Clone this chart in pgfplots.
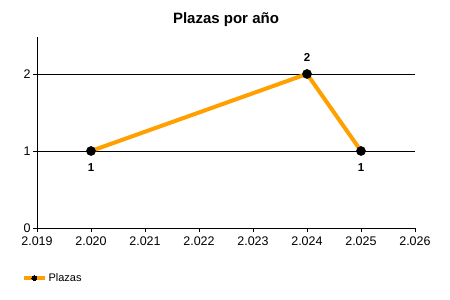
\documentclass[border=0pt]{standalone}
\usepackage{pgfplots}
\pgfplotsset{compat=1.18}
\usepackage{fontspec}
\setmainfont{Liberation Sans}
\definecolor{lineorange}{RGB}{255,160,0}
\begin{document}
\begin{tikzpicture}
\useasboundingbox (0pt,0pt) rectangle (450pt,300pt);
\begin{axis}[
  at={(37pt,72pt)}, anchor=south west,
  scale only axis, width=378pt, height=191pt,
  xmin=2019, xmax=2026, ymin=0, ymax=2.48,
  axis x line*=bottom, axis y line*=left,
  axis line style={black, line width=0.8pt, -},
  xtick={2019,...,2026},
  xticklabels={2.019,2.020,2.021,2.022,2.023,2.024,2.025,2.026},
  ytick={0,1,2}, yticklabels={0,1,2},
  tick align=outside, major tick length=4pt,
  tick style={black, line width=0.8pt},
  ymajorgrids, grid style={black, line width=0.8pt},
  ticklabel style={font=\fontsize{12.5}{14}\selectfont},
  xticklabel style={yshift=-1pt},
  yticklabel style={xshift=1pt},
  title={Plazas por año},
  title style={font=\bfseries\fontsize{15}{17}\selectfont, yshift=1pt},
  legend style={at={(-0.04,-0.262)}, anchor=west, draw=none, fill=none,
    font=\fontsize{11}{13}\selectfont, inner sep=0pt},
  legend cell align=left,
  clip=false,
]
\addplot[lineorange, line width=4pt, mark=*, mark size=4.6pt,
  mark options={black, fill=black, line width=0.4pt},
  nodes near coords,
  point meta=explicit symbolic,
  visualization depends on={value \thisrow{dy} \as \dy},
  every node near coord/.append style={font=\bfseries\fontsize{11.5}{13}\selectfont, anchor=center, text=black, yshift=\dy pt},
  legend image code/.code={
    \draw[lineorange, line width=3.5pt] (0pt,0pt) -- (21pt,0pt);
    \fill[black, line width=0pt] (10.5pt,0pt) circle (2.5pt);
  },
] table[meta=lab] {
x y lab dy
2020 1 1 -17
2024 2 2 16
2025 1 1 -17
};
\addlegendentry{Plazas}
\end{axis}
\end{tikzpicture}
\end{document}
